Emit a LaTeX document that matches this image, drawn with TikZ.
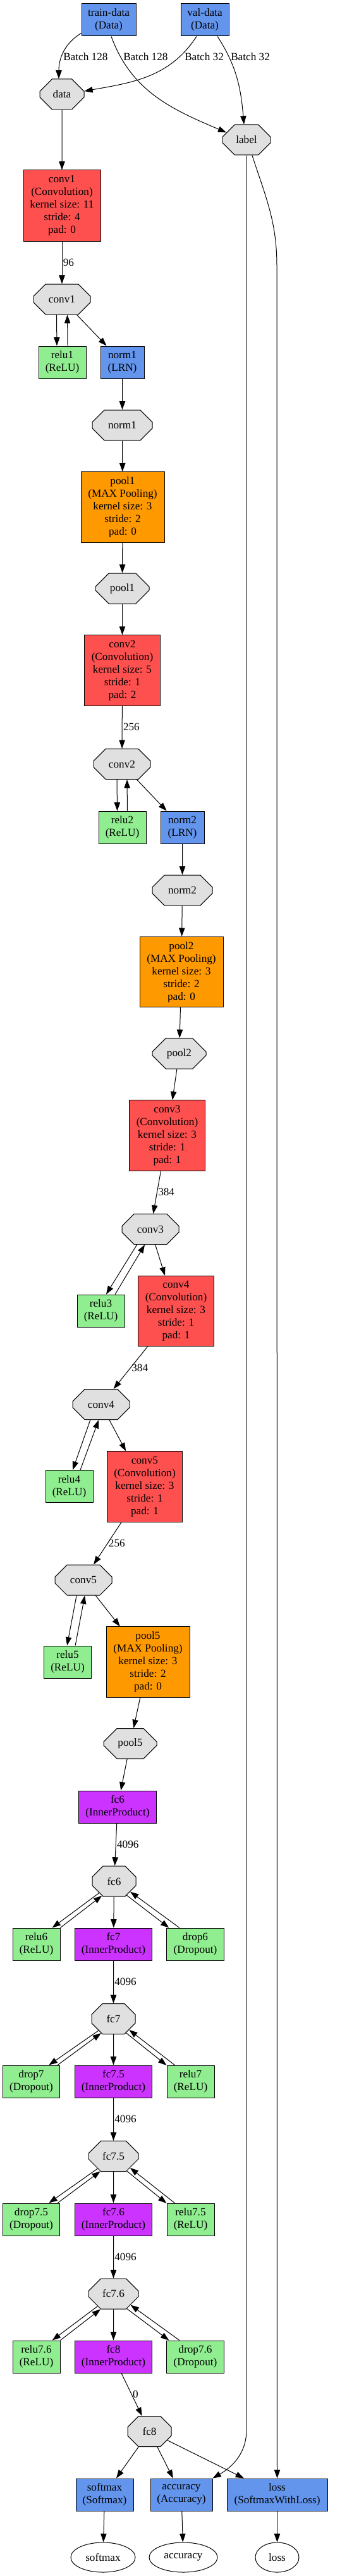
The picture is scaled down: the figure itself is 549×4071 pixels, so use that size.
\documentclass[tikz,border=0pt]{standalone}
\usepackage{fontspec}
\setmainfont{Liberation Serif}
\usetikzlibrary{arrows.meta,shapes.misc,shapes.geometric}

\definecolor{convcol}{HTML}{FF5050}
\definecolor{poolcol}{HTML}{FF9900}
\definecolor{ipcol}{HTML}{CC33FF}
\definecolor{datacol}{HTML}{6495ED}
\definecolor{relucol}{HTML}{90EE90}
\definecolor{blobcol}{HTML}{E0E0E0}

\begin{document}
\begin{tikzpicture}[
            x=0.75pt,y=-0.75pt,
            font=\fontsize{12.9}{15}\selectfont,
            layer/.style={draw,rectangle,align=center,inner sep=0,minimum height=38.25pt,line width=.75pt},
            datalayer/.style={layer,fill=datacol},
            conv/.style={layer,fill=convcol,minimum width=89.5pt,minimum height=83.5pt},
            pool/.style={layer,fill=poolcol,minimum width=99pt,minimum height=83.5pt},
            ip/.style={layer,fill=ipcol,minimum width=92pt},
            relu/.style={layer,fill=relucol,minimum width=56.25pt},
            drop/.style={layer,fill=relucol,minimum width=68pt},
            blob/.style={draw,chamfered rectangle,chamfered rectangle xsep=#1*0.2pt,chamfered rectangle ysep=10pt,
                         fill=blobcol,inner sep=0,minimum height=36pt,minimum width=#1*0.75pt,line width=.75pt},
            output/.style={draw,ellipse,inner sep=0,minimum height=35.25pt,minimum width=#1*0.75pt,line width=.75pt},
            lab/.style={inner sep=0,anchor=west},
            elab/.style={midway,right,inner sep=1pt},
            every edge/.style={draw,->,line width=.75pt},
            >={Triangle[length=10pt,width=7pt]}
          ]
          \useasboundingbox (0,0) rectangle (549,4071);

          %inputs
          \node[datalayer,minimum width=64.5pt] (traindata) at (172,31.5) {train-data\\(Data)};
          \node[datalayer,minimum width=57pt] (valdata) at (324,31.5) {val-data\\(Data)};
          \node[blob=70] (data) at (98,149) {data};
          \node[blob=76] (label) at (390,221) {label};

          %labels
          \node[lab] (bt1) at (100,90) {Batch 128};
          \node[lab] (bt2) at (195,90) {Batch 128};
          \node[lab] (bv1) at (292,90) {Batch 32};
          \node[lab] (bv2) at (365,90) {Batch 32};

          %conv layers
          \node[conv,minimum width=91.5pt,minimum height=84pt] (conv1) at (98,325) {conv1\\(Convolution)\\kernel size: 11\\stride: 4\\pad: 0};
          \node[blob=90] (conv1b) at (98,473) {conv1};
          \node[relu] (relu1) at (98.5,572.5) {relu1\\(ReLU)};
          \node[datalayer,minimum width=51.75pt] (norm1) at (193.5,572.5) {norm1\\(LRN)};
          \node[blob=95] (norm1b) at (193.5,672) {norm1};
          \node[pool] (pool1) at (194,801.5) {pool1\\(MAX Pooling)\\kernel size: 3\\stride: 2\\pad: 0};
          \node[blob=85] (pool1b) at (193.5,930) {pool1};
          \node[conv] (conv2) at (193.5,1059.5) {conv2\\(Convolution)\\kernel size: 5\\stride: 1\\pad: 2};
          \node[blob=90] (conv2b) at (193,1207.5) {conv2};
          \node[relu] (relu2) at (193.5,1307.5) {relu2\\(ReLU)};
          \node[datalayer,minimum width=51.75pt] (norm2) at (288.5,1307.5) {norm2\\(LRN)};
          \node[blob=95] (norm2b) at (288.5,1407) {norm2};
          \node[pool] (pool2) at (287,1536) {pool2\\(MAX Pooling)\\kernel size: 3\\stride: 2\\pad: 0};
          \node[blob=85] (pool2b) at (283.5,1665) {pool2};
          \node[conv] (conv3) at (264.5,1794.5) {conv3\\(Convolution)\\kernel size: 3\\stride: 1\\pad: 1};
          \node[blob=90] (conv3b) at (238,1942.5) {conv3};
          \node[relu] (relu3) at (159.5,2071.5) {relu3\\(ReLU)};
          \node[conv] (conv4) at (278.5,2072) {conv4\\(Convolution)\\kernel size: 3\\stride: 1\\pad: 1};
          \node[blob=90] (conv4b) at (160,2219.5) {conv4};
          \node[relu] (relu4) at (109.5,2349) {relu4\\(ReLU)};
          \node[conv] (conv5) at (229,2349.5) {conv5\\(Convolution)\\kernel size: 3\\stride: 1\\pad: 1};
          \node[blob=90] (conv5b) at (132,2497) {conv5};
          \node[relu] (relu5) at (107,2626.5) {relu5\\(ReLU)};
          \node[pool] (pool5) at (234,2626.5) {pool5\\(MAX Pooling)\\kernel size: 3\\stride: 2\\pad: 0};
          \node[blob=84] (pool5b) at (206,2755.5) {pool5};

          %fully connected
          \node[ip] (fc6) at (186,2855.5) {fc6\\(InnerProduct)};
          \node[blob=69] (fc6b) at (180.5,2973) {fc6};
          \node[relu] (relu6) at (57.5,3072.5) {relu6\\(ReLU)};
          \node[ip] (fc7) at (179.5,3072.5) {fc7\\(InnerProduct)};
          \node[drop] (drop6) at (309,3072.5) {drop6\\(Dropout)};
          \node[blob=69] (fc7b) at (179.5,3190.5) {fc7};
          \node[drop] (drop7) at (49.5,3289.5) {drop7\\(Dropout)};
          \node[ip] (fc75) at (179.5,3289.5) {fc7.5\\(InnerProduct)};
          \node[relu] (relu7) at (301.5,3289.5) {relu7\\(ReLU)};
          \node[blob=79] (fc75b) at (179.5,3407.5) {fc7.5};
          \node[drop] (drop75) at (49.5,3507.5) {drop7.5\\(Dropout)};
          \node[ip] (fc76) at (179.5,3507.5) {fc7.6\\(InnerProduct)};
          \node[relu] (relu75) at (301.5,3507.5) {relu7.5\\(ReLU)};
          \node[blob=79] (fc76b) at (179.5,3625) {fc7.6};
          \node[relu] (relu76) at (57.5,3724.5) {relu7.6\\(ReLU)};
          \node[ip] (fc8) at (179.5,3724.5) {fc8\\(InnerProduct)};
          \node[drop] (drop76) at (309,3724.5) {drop7.6\\(Dropout)};
          \node[blob=69] (fc8b) at (236.5,3842.5) {fc8};

          %outputs
          \node[datalayer,minimum width=68.25pt] (softmax) at (165.5,3942.5) {softmax\\(Softmax)};
          \node[datalayer,minimum width=73.5pt] (accuracy) at (287,3942.5) {accuracy\\(Accuracy)};
          \node[datalayer,minimum width=119.25pt] (loss) at (438.5,3942.5) {loss\\(SoftmaxWithLoss)};
          \node[output=102] (softmaxout) at (163,4041.5) {softmax};
          \node[output=108] (accuracyout) at (290,4041.5) {accuracy};
          \node[output=69] (lossout) at (438.5,4041.5) {loss};
          \coordinate (lossbend) at (438,420);
          \coordinate (accbend) at (390,3840);

          \path
          ([yshift=3.75pt]traindata.south west) edge[out=211,in=90] ([xshift=-3.75pt]data.north)
          ([xshift=3pt]traindata.south) edge[out=-70,in=157] (label.160)
          ([xshift=-9.75pt]valdata.south) edge[out=-123,in=10] (data.8)
          ([xshift=15pt]valdata.south) edge[out=-57,in=95] ([xshift=-3pt]label.north)
          (label.-70) edge[-,out=-72,in=90] (lossbend)
          (lossbend) edge (loss)
          (label) edge[-] (accbend)
          (accbend) edge[out=-90,in=30] (accuracy.north east)
          ;

          \path
          (data) edge (conv1)
          (conv1) edge node[elab] {96} (conv1b)
          ([xshift=-6.4pt]conv1b.south) edge ([xshift=-6.4pt]relu1.north)
          ([xshift=6.4pt]relu1.north) edge ([xshift=6.4pt]conv1b.south)
          (conv1b) edge (norm1)
          (norm1) edge (norm1b)
          (norm1b) edge (pool1)
          (pool1) edge (pool1b)
          (pool1b) edge (conv2)
          (conv2) edge node[elab] {256} (conv2b)
          ([xshift=-6pt]conv2b.south) edge ([xshift=-6pt]relu2.north)
          ([xshift=6pt]relu2.north) edge ([xshift=6pt]conv2b.south)
          (conv2b) edge (norm2)
          (norm2) edge (norm2b)
          (norm2b) edge (pool2)
          (pool2) edge (pool2b)
          (pool2b) edge (conv3)
          (conv3) edge node[elab] {384} (conv3b)
          (conv3b.-131) edge (relu3.72)
          (relu3.49) edge (conv3b.-110)
          (conv3b) edge (conv4)
          (conv4) edge node[elab] {384} (conv4b)
          (conv4b.-125) edge (relu4.78)
          (relu4.56) edge (conv4b.-99)
          (conv4b) edge (conv5)
          (conv5) edge node[elab] {256} (conv5b)
          (conv5b.-114) edge (relu5.92)
          (relu5.65) edge (conv5b.-85)
          (conv5b) edge (pool5)
          (pool5) edge (pool5b)
          (pool5b) edge (fc6)
          ;

          \path
          (fc6) edge node[elab] {4096} (fc6b)
          (fc6b.-142) edge (relu6.46)
          (relu6.north east) edge (fc6b.-130)
          (fc6b) edge (fc7)
          (fc6b.-48) edge (drop6.148)
          (drop6.134) edge (fc6b.-33)
          (fc7) edge node[elab] {4096} (fc7b)
          (fc7b.-142) edge (drop7.43)
          (drop7.32) edge (fc7b.-131)
          (fc7b) edge (fc75)
          (fc7b.-48) edge (relu7.146)
          (relu7.134) edge (fc7b.-35)
          (fc75) edge node[elab] {4096} (fc75b)
          (fc75b.-142) edge (drop75.43)
          (drop75.32) edge (fc75b.-131)
          (fc75b) edge (fc76)
          (fc75b.-48) edge (relu75.146)
          (relu75.134) edge (fc75b.-35)
          (fc76) edge node[elab] {4096} (fc76b)
          (fc76b.-142) edge (relu76.46)
          (relu76.north east) edge (fc76b.-130)
          (fc76b) edge (fc8)
          (fc76b.-48) edge (drop76.148)
          (drop76.134) edge (fc76b.-33)
          (fc8) edge node[elab] {0} (fc8b)
          (fc8b) edge (softmax)
          (fc8b) edge (accuracy)
          (fc8b) edge (loss)
          (softmax) edge (softmaxout)
          (accuracy) edge (accuracyout)
          (loss) edge (lossout)
          ;

      \end{tikzpicture}
\end{document}
